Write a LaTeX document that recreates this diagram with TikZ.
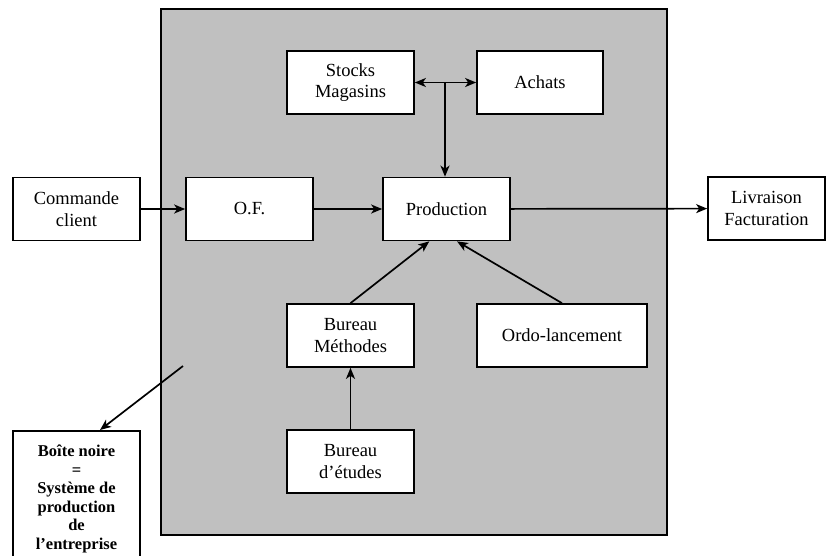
\documentclass[tikz,border=0pt]{standalone}
\usepackage{fontspec}
\setmainfont{Liberation Serif}
\usetikzlibrary{arrows.meta}
\definecolor{sysgrey}{RGB}{192,192,192}
\begin{document}
\begin{tikzpicture}[x=1pt,y=-1pt, line width=1.7pt,
  box/.style={draw, fill=white, minimum width=127pt, minimum height=63pt,
    inner sep=2pt, align=center, font=\fontsize{18.5}{21.5}\selectfont},
  arr/.style={-{Stealth[length=11pt,width=9pt,inset=3pt]}},
  dbl/.style={{Stealth[length=11pt,width=9pt,inset=3pt]}-{Stealth[length=11pt,width=9pt,inset=3pt]}}]
  \useasboundingbox (0,0) rectangle (827,555);
  \clip (0,0) rectangle (827,555);

  % production system (black box)
  \draw[fill=sysgrey] (161,9) rectangle (667,535);

  % nodes
  \node[box] (cmd) at (76.5,209) {Commande\\client};
  \node[box] (of) at (249.5,209) {O.F.};
  \node[box] (prod) at (446.5,209) {Production};
  \node[box, minimum width=117pt] (liv) at (766.5,208.5) {Livraison\\Facturation};
  \node[box] (stk) at (350.5,82.5) {Stocks\\Magasins};
  \node[box, minimum width=126pt] (ach) at (540,82.5) {Achats};
  \node[box] (bm) at (350.5,335.5) {Bureau\\Méthodes};
  \node[box, minimum width=170pt] (ordo) at (562,335.5) {Ordo-lancement};
  \node[box] (be) at (350.5,461.5) {Bureau\\d’études};
  \node[box, anchor=north, minimum height=136pt,
    font=\bfseries\fontsize{16.5}{18.6}\selectfont] (bn) at (76.5,430)
    {Boîte noire\\=\\Système de\\production\\de\\l’entreprise};

  % connectors
  \coordinate (j) at (445,83);
  \coordinate (bx) at (183,366);
  \draw[arr] (cmd) -- (of);
  \draw[arr] (of) -- (prod);
  \draw[arr] (prod) -- (liv);
  \draw[dbl] (stk) -- (ach);
  \draw[arr] (j) -- (j |- prod.north);
  \draw[arr] (bm.north) -- (prod.242.7);
  \draw[arr] (ordo.north) -- (prod.288.2);
  \draw[arr] (be) -- (bm);
  \draw[arr] (bx) -- ([xshift=23.5pt]bn.north);
\end{tikzpicture}
\end{document}
